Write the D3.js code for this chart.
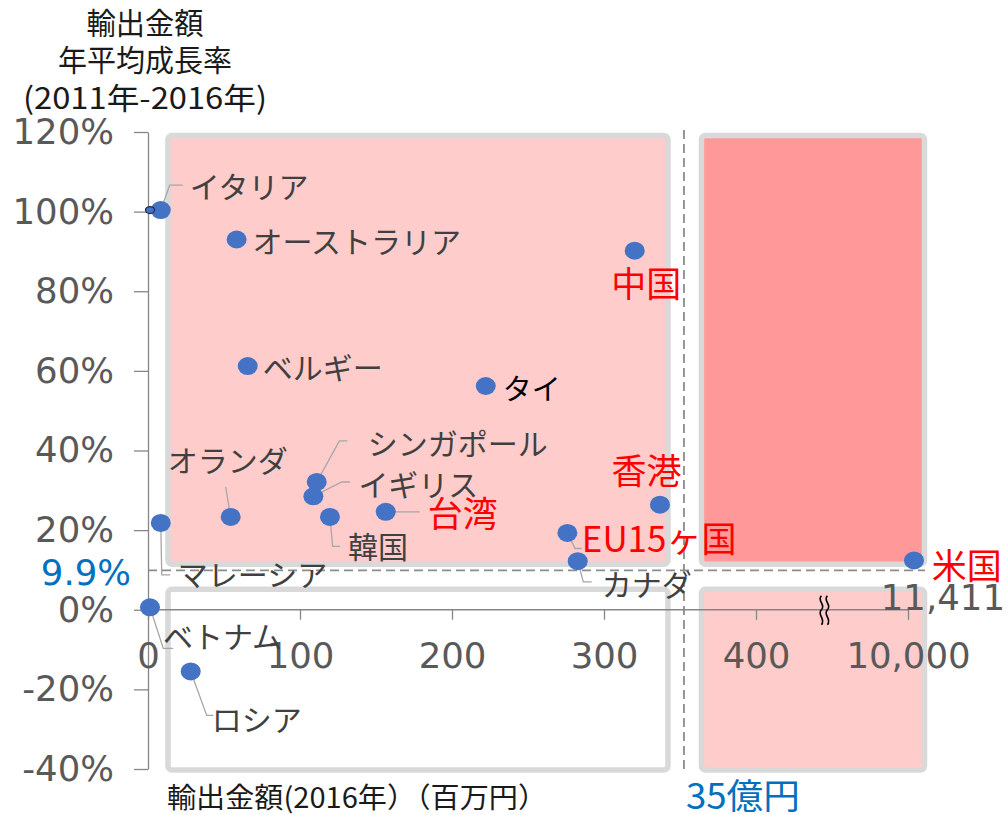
<!DOCTYPE html>
<html lang="ja">
<head>
<meta charset="utf-8">
<script src="https://cdn.jsdelivr.net/npm/d3@7"></script>
<style>
  html, body { margin: 0; padding: 0; background: #fff; }
  svg { display: block; }
</style>
</head>
<body>
<svg id="chart" width="1008" height="815"></svg>
<script>
// Export value 2016 (百万円) and average annual growth 2011-2016 (%) by market
const countries = ["イタリア", "オーストラリア", "ベルギー", "中国", "タイ", "シンガポール", "イギリス", "韓国",
  "オランダ", "マレーシア", "台湾", "香港", "EU15ヶ国", "カナダ", "米国", "ベトナム", "ロシア"];
const exportValue = [8.4, 58.3, 65.6, 320.2, 222.2, 111.0, 108.8, 119.7,
  54.4, 8.4, 156.4, 336.8, 275.9, 282.7, 11411, 1.3, 28.1];
const growthRate = [100.4, 93.0, 61.2, 90.2, 56.2, 32.1, 28.5, 23.3,
  23.3, 21.8, 24.6, 26.4, 19.3, 12.2, 12.4, 0.6, -15.5];
const labelColorKey = ["gray", "gray", "gray", "red", "black", "gray", "gray", "gray",
  "gray", "gray", "red", "red", "red", "gray", "red", "gray", "gray"];

const yTicks = [-40, -20, 0, 20, 40, 60, 80, 100, 120];
const xTicks = [0, 100, 200, 300, 400, 10000];
const growthThreshold = 9.9;      // %
const valueThreshold = 352.6;     // 35億円 line
const breakAt = 445;              // axis break position
const usValueLabel = "11,411";

const svg = d3.select("#chart");

// Broken x axis: linear up to the break, then a compressed segment for 10,000+
const x = d3.scaleLinear()
  .domain([0, breakAt, 10000, 11411])
  .range([148, 148 + breakAt * 1.52, 908, 914]);
const y = d3.scaleLinear().domain([-40, 120]).range([769, 132]);

const xThr = x(valueThreshold);
const yThr = y(growthThreshold);

// Quadrant panels
const L0 = x(0) + 20, L1 = xThr - 16, R0 = xThr + 17.5, R1 = x(11411) + 10.5;
const T0 = y(120) + 3.5, T1 = yThr - 6, B0 = yThr + 19, B1 = y(-40) + 1;
const panels = [
  { x0: L0, x1: L1, y0: T0, y1: T1, fill: "#ffcccc" },
  { x0: R0, x1: R1, y0: T0, y1: T1, fill: "#ff9999" },
  { x0: L0, x1: L1, y0: B0, y1: B1, fill: "#ffffff" },
  { x0: R0, x1: R1, y0: B0, y1: B1, fill: "#ffcccc" }
];
svg.append("g").selectAll("rect").data(panels).join("rect")
  .attr("x", d => d.x0).attr("y", d => d.y0)
  .attr("width", d => d.x1 - d.x0).attr("height", d => d.y1 - d.y0)
  .attr("rx", 4)
  .attr("fill", d => d.fill)
  .attr("stroke", "#d9d9d9").attr("stroke-width", 5.5);

// Threshold lines
svg.append("line")
  .attr("x1", x(0)).attr("x2", 925).attr("y1", yThr).attr("y2", yThr)
  .attr("stroke", "#8c8c8c").attr("stroke-width", 1.8).attr("stroke-dasharray", "9,5");
svg.append("line")
  .attr("x1", xThr).attr("x2", xThr).attr("y1", 130).attr("y2", 771)
  .attr("stroke", "#8c8c8c").attr("stroke-width", 1.8).attr("stroke-dasharray", "9,5");

const tickFont = "'DejaVu Sans', Verdana, sans-serif";
const cjkFont = "'Noto Sans CJK JP', 'Noto Sans', sans-serif";

// Y axis
const yAxis = svg.append("g").attr("transform", `translate(${x(0)},0)`)
  .call(d3.axisLeft(y).tickValues(yTicks).tickFormat(d => d + "%")
    .tickSize(14).tickSizeOuter(0).tickPadding(20));
yAxis.select(".domain").attr("stroke", "#868686").attr("stroke-width", 1.3);
yAxis.selectAll(".tick line").attr("stroke", "#868686").attr("stroke-width", 1.3);
yAxis.selectAll(".tick text")
  .attr("fill", "#595959").style("font-family", tickFont).style("font-size", "35.5px");

// X axis
const xAxis = svg.append("g").attr("transform", `translate(0,${y(0)})`)
  .call(d3.axisBottom(x).tickValues(xTicks).tickFormat(d3.format(","))
    .tickSize(10).tickSizeOuter(0));
xAxis.select(".domain").remove();
xAxis.append("line").attr("x1", x(0)).attr("x2", x(10000)).attr("y1", 0).attr("y2", 0)
  .attr("stroke", "#868686").attr("stroke-width", 1.3);
xAxis.selectAll(".tick line").attr("stroke", "#868686").attr("stroke-width", 1.3);
xAxis.selectAll(".tick text")
  .attr("y", 46).attr("dy", "0.35em")
  .attr("fill", "#595959").style("font-family", tickFont).style("font-size", "35.5px");

// Axis break mark
const bx = x(breakAt), by = y(0);
const squiggle = dx => `M${bx + dx},${by - 14} c-5,5 5,9 0,14 c-5,5 5,9 0,15`;
svg.append("g").selectAll("path").data([-3, 3]).join("path")
  .attr("d", d => squiggle(d))
  .attr("fill", "none").attr("stroke", "#000").attr("stroke-width", 1.6);

// Threshold labels
svg.append("text").text(growthThreshold + "%")
  .attr("x", 131).attr("y", yThr + 2).attr("dy", "0.35em").attr("text-anchor", "end")
  .attr("fill", "#0070c0").style("font-family", tickFont).style("font-size", "35.5px");
svg.append("text").text("35億円")
  .attr("x", xThr + 2).attr("y", 797).attr("dy", "0.35em")
  .attr("fill", "#0070c0").style("font-family", cjkFont).style("font-size", "35px")
  .attr("textLength", 114).attr("lengthAdjust", "spacingAndGlyphs");
svg.append("text").text(usValueLabel)
  .attr("x", 1005).attr("y", 598).attr("dy", "0.35em").attr("text-anchor", "end")
  .attr("fill", "#595959").style("font-family", tickFont).style("font-size", "35.5px");

// Axis titles
const yTitleLines = [
  { t: "輸出金額", w: 117 },
  { t: "年平均成長率", w: 174 },
  { t: "(2011年-2016年)", w: 244 }
];
svg.append("g").selectAll("text").data(yTitleLines).join("text")
  .text(d => d.t)
  .attr("x", 145 - 0).attr("y", (d, i) => 23 + i * 37.5).attr("dy", "0.35em")
  .attr("text-anchor", "middle")
  .attr("textLength", d => d.w).attr("lengthAdjust", "spacingAndGlyphs")
  .attr("fill", "#1a1a1a").style("font-family", cjkFont).style("font-size", "30px");
svg.append("text").text("輸出金額(2016年）（百万円）")
  .attr("x", 167).attr("y", 798).attr("dy", "0.35em")
  .attr("textLength", 380).attr("lengthAdjust", "spacingAndGlyphs")
  .attr("fill", "#1a1a1a").style("font-family", cjkFont).style("font-size", "28px");

// Label placement (offsets from each point) and leader elbows
const labelLayout = {
  "イタリア":     { dx: 29, dy: -23, lead: [[9, -25], [22, -25]] },
  "オーストラリア": { dx: 16, dy: 3 },
  "ベルギー":     { dx: 15, dy: 2 },
  "中国":         { dx: 11.5, dy: 34, anchor: "middle" },
  "タイ":         { dx: 17, dy: 4 },
  "シンガポール":  { dx: 51, dy: -37, lead: [[22.7, -41], [30.7, -41]] },
  "イギリス":     { dx: 45, dy: -11, lead: [[28.4, -14.3], [36.7, -14.3]] },
  "韓国":         { dx: 18, dy: 31, lead: [[2.7, 29.3], [10, 29.3]] },
  "オランダ":     { dx: -3, dy: -55, anchor: "middle", lead: [[-5, -30]] },
  "マレーシア":   { dx: 17, dy: 53, lead: [[1, 52], [9.3, 52]] },
  "台湾":         { dx: 42, dy: 3, lead: [[34, 0]] },
  "香港":         { dx: -13.5, dy: -33, anchor: "middle" },
  "EU15ヶ国":     { dx: 14.4, dy: 7.3, lead: [[7.7, 15.6], [14.4, 15.6]] },
  "カナダ":       { dx: 24, dy: 24, lead: [[5.6, 20.7], [14, 20.7]] },
  "米国":         { dx: 17.7, dy: 6.7 },
  "ベトナム":     { dx: 13, dy: 30, lead: [[13.3, 41], [23.3, 41]] },
  "ロシア":       { dx: 21, dy: 49, lead: [[16, 44], [22.6, 44]] }
};
const labelStyle = {
  gray:  { fill: "#404040", size: 30 },
  black: { fill: "#000000", size: 29 },
  red:   { fill: "#ff0000", size: 35 }
};

const points = countries.map((c, i) => ({
  name: c, value: exportValue[i], growth: growthRate[i],
  px: x(exportValue[i]), py: y(growthRate[i]),
  style: labelStyle[labelColorKey[i]], layout: labelLayout[c]
}));

// Leader lines
svg.append("g").selectAll("path").data(points.filter(p => p.layout.lead)).join("path")
  .attr("d", p => "M" + [[0, 0], ...p.layout.lead].map(([a, b]) => `${p.px + a},${p.py + b}`).join("L"))
  .attr("fill", "none").attr("stroke", "#a6a6a6").attr("stroke-width", 1.3);

// Points
svg.append("g").selectAll("ellipse").data(points).join("ellipse")
  .attr("cx", p => p.px).attr("cy", p => p.py)
  .attr("rx", 10).attr("ry", 9)
  .attr("fill", "#4472c4");

// Small marker on the axis at the Italy level
svg.append("ellipse")
  .attr("cx", x(0) + 2).attr("cy", y(growthRate[0]))
  .attr("rx", 4.5).attr("ry", 3.5)
  .attr("fill", "#4472c4").attr("stroke", "#1f2d4d").attr("stroke-width", 1.2);

// Labels
svg.append("g").selectAll("text").data(points).join("text")
  .text(p => p.name)
  .attr("x", p => p.px + p.layout.dx).attr("y", p => p.py + p.layout.dy)
  .attr("dy", "0.35em")
  .attr("text-anchor", p => p.layout.anchor || "start")
  .attr("fill", p => p.style.fill)
  .style("font-family", cjkFont)
  .style("font-size", p => p.style.size + "px");
</script>
</body>
</html>
